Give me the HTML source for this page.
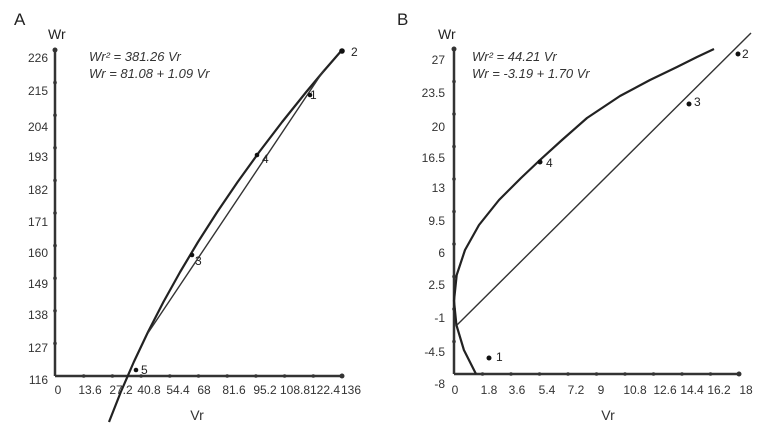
<!DOCTYPE html>
<html><head><meta charset="utf-8"><style>
html,body{margin:0;padding:0;background:#fff;}
svg{display:block;font-family:"Liberation Sans",sans-serif;}
</style></head><body>
<svg width="774" height="432" viewBox="0 0 774 432" xmlns="http://www.w3.org/2000/svg">
<rect width="774" height="432" fill="#fff"/>
<!-- Panel A -->
<text x="14" y="25" font-size="17" fill="#222">A</text>
<text x="48" y="39" font-size="14" fill="#222">Wr</text>
<g stroke="#333" stroke-width="2.5" fill="none">
<line x1="55" y1="50" x2="55" y2="376"/>
<line x1="55" y1="376" x2="342" y2="376"/>
</g>
<g fill="#333">
<circle cx="55" cy="50" r="2.5"/><circle cx="342" cy="376" r="2.5"/>
<circle cx="55" cy="82.6" r="1.8"/><circle cx="55" cy="115.2" r="1.8"/><circle cx="55" cy="147.8" r="1.8"/><circle cx="55" cy="180.4" r="1.8"/><circle cx="55" cy="213" r="1.8"/><circle cx="55" cy="245.6" r="1.8"/><circle cx="55" cy="278.2" r="1.8"/><circle cx="55" cy="310.8" r="1.8"/><circle cx="55" cy="343.4" r="1.8"/>
<circle cx="83.7" cy="376" r="1.8"/><circle cx="112.4" cy="376" r="1.8"/><circle cx="141.1" cy="376" r="1.8"/><circle cx="169.8" cy="376" r="1.8"/><circle cx="198.5" cy="376" r="1.8"/><circle cx="227.2" cy="376" r="1.8"/><circle cx="255.9" cy="376" r="1.8"/><circle cx="284.6" cy="376" r="1.8"/><circle cx="313.3" cy="376" r="1.8"/>
</g>
<g font-size="12" fill="#333" text-anchor="end">
<text x="48" y="62">226</text><text x="48" y="95">215</text><text x="48" y="131">204</text><text x="48" y="161">193</text><text x="48" y="194">182</text><text x="48" y="226">171</text><text x="48" y="257">160</text><text x="48" y="288">149</text><text x="48" y="319">138</text><text x="48" y="352">127</text><text x="48" y="384">116</text>
</g>
<g font-size="12" fill="#333" text-anchor="middle">
<text x="58" y="394">0</text><text x="90" y="394">13.6</text><text x="121" y="394">27.2</text><text x="149" y="394">40.8</text><text x="178" y="394">54.4</text><text x="204" y="394">68</text><text x="234" y="394">81.6</text><text x="265" y="394">95.2</text><text x="295" y="394">108.8</text><text x="325" y="394">122.4</text><text x="351" y="394">136</text>
</g>
<text x="197" y="420" font-size="14" fill="#333" text-anchor="middle">Vr</text>
<text x="89" y="61" font-size="13" font-style="italic" fill="#333">Wr² = 381.26 Vr</text>
<text x="89" y="78" font-size="13" font-style="italic" fill="#333">Wr = 81.08 + 1.09 Vr</text>
<polyline points="109,422 120.8,392 133.8,362 148,332 163.4,302 180.1,272 198,242 217.2,212 237.6,182 259.2,152 282.1,122 306.2,92 322.9,72 342,50" stroke="#222" stroke-width="2.2" fill="none" stroke-linejoin="round"/>
<path d="M148,333 L324,70" stroke="#333" stroke-width="1.4" fill="none"/>
<g fill="#111">
<circle cx="136" cy="370" r="2.3"/><circle cx="192" cy="255" r="2.3"/><circle cx="257" cy="155" r="2.3"/><circle cx="310" cy="95" r="2.3"/><circle cx="342" cy="51" r="2.8"/>
</g>
<g font-size="12" fill="#222">
<text x="141" y="374">5</text><text x="195" y="265">3</text><text x="262" y="163">4</text><text x="310" y="99">1</text><text x="351" y="56">2</text>
</g>
<!-- Panel B -->
<text x="397" y="25" font-size="17" fill="#222">B</text>
<text x="438" y="39" font-size="14" fill="#222">Wr</text>
<g stroke="#333" stroke-width="2.5" fill="none">
<line x1="454" y1="49" x2="454" y2="374"/>
<line x1="454" y1="374" x2="739" y2="374"/>
</g>
<g fill="#333">
<circle cx="454" cy="49" r="2.5"/><circle cx="739" cy="374" r="2.5"/>
<circle cx="454" cy="81.5" r="1.8"/><circle cx="454" cy="114" r="1.8"/><circle cx="454" cy="146.5" r="1.8"/><circle cx="454" cy="179" r="1.8"/><circle cx="454" cy="211.5" r="1.8"/><circle cx="454" cy="244" r="1.8"/><circle cx="454" cy="276.5" r="1.8"/><circle cx="454" cy="309" r="1.8"/><circle cx="454" cy="341.5" r="1.8"/>
<circle cx="482.5" cy="374" r="1.8"/><circle cx="511" cy="374" r="1.8"/><circle cx="539.5" cy="374" r="1.8"/><circle cx="568" cy="374" r="1.8"/><circle cx="596.5" cy="374" r="1.8"/><circle cx="625" cy="374" r="1.8"/><circle cx="653.5" cy="374" r="1.8"/><circle cx="682" cy="374" r="1.8"/><circle cx="710.5" cy="374" r="1.8"/>
</g>
<g font-size="12" fill="#333" text-anchor="end">
<text x="445" y="64">27</text><text x="445" y="97">23.5</text><text x="445" y="131">20</text><text x="445" y="162">16.5</text><text x="445" y="192">13</text><text x="445" y="225">9.5</text><text x="445" y="257">6</text><text x="445" y="289">2.5</text><text x="445" y="322">-1</text><text x="445" y="356">-4.5</text><text x="445" y="388">-8</text>
</g>
<g font-size="12" fill="#333" text-anchor="middle">
<text x="455" y="394">0</text><text x="489" y="394">1.8</text><text x="517" y="394">3.6</text><text x="547" y="394">5.4</text><text x="576" y="394">7.2</text><text x="601" y="394">9</text><text x="635" y="394">10.8</text><text x="665" y="394">12.6</text><text x="692" y="394">14.4</text><text x="719" y="394">16.2</text><text x="746" y="394">18</text>
</g>
<text x="608" y="420" font-size="14" fill="#333" text-anchor="middle">Vr</text>
<text x="472" y="61" font-size="13" font-style="italic" fill="#333">Wr² = 44.21 Vr</text>
<text x="472" y="78" font-size="13" font-style="italic" fill="#333">Wr = -3.19 + 1.70 Vr</text>
<polyline points="476,374 463.9,350 456.4,325 454,300.8 456.7,275 465,250 479,225 499,200 521,178 540,160 562,140 587,118 620,96 650,80 677,67 697,57 714,49" stroke="#222" stroke-width="2.2" fill="none" stroke-linejoin="round"/>
<path d="M457,325 L751,33" stroke="#333" stroke-width="1.4" fill="none"/>
<g fill="#111">
<circle cx="489" cy="358" r="2.5"/><circle cx="540" cy="162" r="2.5"/><circle cx="689" cy="104" r="2.5"/><circle cx="738" cy="54" r="2.5"/>
</g>
<g font-size="12" fill="#222">
<text x="496" y="361">1</text><text x="546" y="167">4</text><text x="694" y="106">3</text><text x="742" y="58">2</text>
</g>
</svg>
</body></html>
